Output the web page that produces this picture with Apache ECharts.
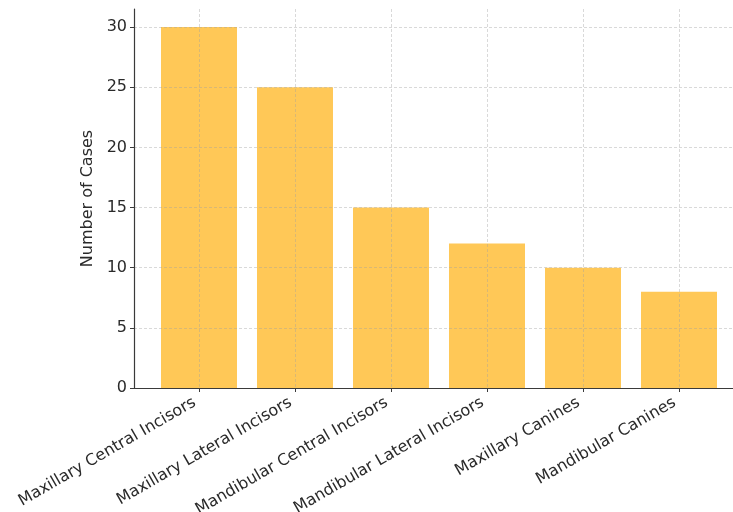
<!DOCTYPE html>
<html>
<head>
<meta charset="utf-8">
<script src="https://cdn.jsdelivr.net/npm/echarts@6/dist/echarts.min.js"></script>
<style>
html,body{margin:0;padding:0;background:#fff;}
#chart{width:733px;height:512px;}
</style>
</head>
<body>
<div id="chart"></div>
<script>
var categories = ["Maxillary Central Incisors", "Maxillary Lateral Incisors", "Mandibular Central Incisors", "Mandibular Lateral Incisors", "Maxillary Canines", "Mandibular Canines"];
var cases = [30, 25, 15, 12, 10, 8];
var yTicks = [0, 5, 10, 15, 20, 25, 30];

var positions = categories.map(function (c, i) { return i; });
var barData = cases.map(function (v, i) { return [i, v]; });

var chart = echarts.init(document.getElementById('chart'), null, {renderer: 'canvas'});
var font = 'DejaVu Sans';
var gridLine = {show: true, lineStyle: {color: 'rgba(160,160,160,0.4)', type: [3, 2], width: 1}};
chart.setOption({
  animation: false,
  backgroundColor: '#ffffff',
  grid: {left: 134, top: 9, right: 0, bottom: 124, containLabel: false, outerBoundsMode: 'none'},
  xAxis: {
    type: 'value',
    min: -0.677,
    max: 5.5625,
    z: 3,
    axisLine: {show: true, onZero: false, lineStyle: {color: '#3a3a3a', width: 1.2}},
    axisTick: {show: true, customValues: positions, length: 4, inside: false, lineStyle: {color: '#3a3a3a'}},
    splitLine: gridLine,
    axisLabel: {
      customValues: positions,
      rotate: 30,
      fontFamily: font,
      fontSize: 16,
      color: '#2a2a2a',
      margin: 11,
      padding: [0, 5, 0, 0],
      formatter: function (v) { return categories[Math.round(v)] || ''; }
    }
  },
  yAxis: {
    type: 'value',
    min: 0,
    max: 31.5,
    z: 3,
    name: 'Number of Cases',
    nameLocation: 'middle',
    nameGap: 33,
    nameTextStyle: {fontFamily: font, fontSize: 16, color: '#2a2a2a'},
    axisLine: {show: true, onZero: false, lineStyle: {color: '#3a3a3a', width: 1.2}},
    axisTick: {show: true, customValues: yTicks, length: 4, lineStyle: {color: '#3a3a3a'}},
    splitLine: gridLine,
    axisLabel: {customValues: yTicks, fontFamily: font, fontSize: 16, color: '#2a2a2a', margin: 7}
  },
  series: [{
    type: 'bar',
    data: barData,
    barWidth: 76,
    itemStyle: {color: '#FFC857'},
    z: 2
  }]
});
</script>
</body>
</html>
